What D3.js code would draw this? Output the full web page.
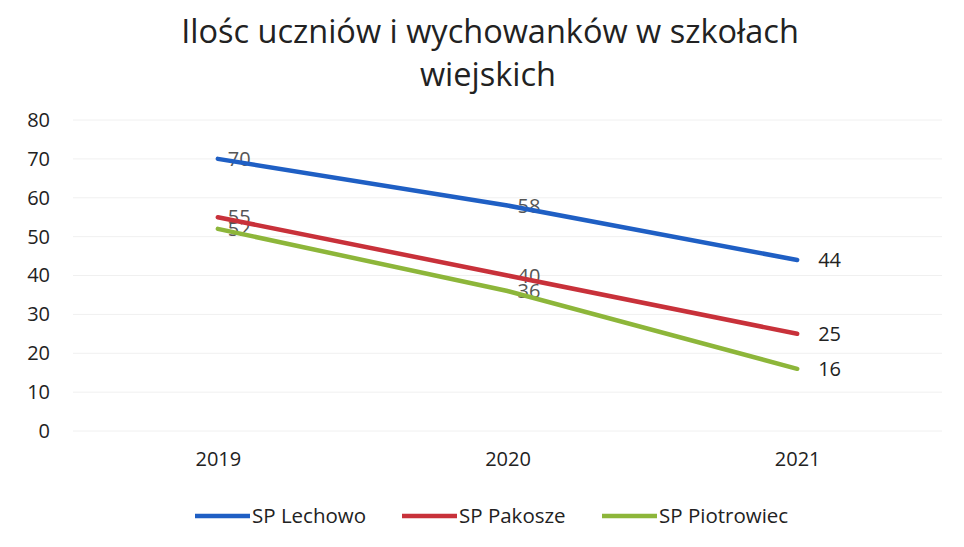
<!DOCTYPE html>
<html>
<head>
<meta charset="utf-8">
<script src="https://cdn.jsdelivr.net/npm/d3@7"></script>
<style>
  body { margin: 0; background: #fff; }
  text { font-family: "Open Sans", "Noto Sans", sans-serif; }
</style>
</head>
<body>
<div id="chart"></div>
<script>
let years = ['2019', '2020', '2021']
let seriesNames = ['SP Lechowo', 'SP Pakosze', 'SP Piotrowiec']
let lechowo = [70, 58, 44]
let pakosze = [55, 40, 25]
let piotrowiec = [52, 36, 16]
let yTicks = [0, 10, 20, 30, 40, 50, 60, 70, 80]
let colors = ['#1f5fc4', '#c8313a', '#8db63a']

let width = 964, height = 547
let margin = {top: 120, right: 22, bottom: 116, left: 73}

let svg = d3.select('#chart').append('svg').attr('width', width).attr('height', height)

let x = d3.scalePoint().domain(years).range([margin.left, width - margin.right]).padding(0.5)
let y = d3.scaleLinear().domain([0, 80]).range([height - margin.bottom, margin.top])

// title
svg.append('text').attr('x', 490).attr('y', 43).attr('text-anchor', 'middle')
    .style('font-size', '32.5px').attr('fill', '#222')
    .text('Ilośc uczniów i wychowanków w szkołach')
svg.append('text').attr('x', 488).attr('y', 86).attr('text-anchor', 'middle')
    .style('font-size', '32.5px').attr('fill', '#222')
    .text('wiejskich')

// grid
svg.append('g').selectAll('line').data(yTicks).enter().append('line')
    .attr('x1', margin.left).attr('x2', width - margin.right)
    .attr('y1', d => y(d)).attr('y2', d => y(d))
    .attr('stroke', '#f0f0f0').attr('stroke-width', 1)

let yAxis = svg.append('g').attr('transform', 'translate(' + (margin.left) + ',0)')
    .call(d3.axisLeft(y).tickValues(yTicks).tickSize(0).tickPadding(23))
yAxis.select('.domain').remove()
yAxis.selectAll('text').style('font-size', '20px').attr('fill', '#222')

let xAxis = svg.append('g').attr('transform', 'translate(0,' + (height - margin.bottom) + ')')
    .call(d3.axisBottom(x).tickSize(0).tickPadding(21))
xAxis.select('.domain').remove()
xAxis.selectAll('text').style('font-size', '20px').attr('fill', '#222')

let series = [lechowo, pakosze, piotrowiec].map((vals, i) => ({
    name: seriesNames[i], color: colors[i],
    values: vals.map((v, j) => ({year: years[j], value: v}))
}))

// labels for first two points, under the lines
series.forEach(s => {
    svg.append('g').selectAll('text').data(s.values.slice(0, 2)).enter().append('text')
        .attr('x', d => x(d.year) + 10).attr('y', d => y(d.value)).attr('dy', '0.35em')
        .style('font-size', '20px').attr('fill', '#555').text(d => d.value)
})

let line = d3.line().x(d => x(d.year)).y(d => y(d.value))
series.forEach(s => {
    svg.append('path').datum(s.values).attr('d', line).attr('fill', 'none')
        .attr('stroke', s.color).attr('stroke-width', 4.5).attr('stroke-linecap', 'round')
})

// labels at last point
series.forEach(s => {
    let last = s.values[s.values.length - 1]
    svg.append('text').attr('x', x(last.year) + 21).attr('y', y(last.value)).attr('dy', '0.35em')
        .style('font-size', '20px').attr('fill', '#222').text(last.value)
})

// legend
let legendX = [195, 402, 602]
let legend = svg.selectAll('.legend').data(series).enter().append('g').attr('class', 'legend')
    .attr('transform', (d, i) => 'translate(' + legendX[i] + ', 516)')
legend.append('line').attr('x1', 0).attr('x2', 55).attr('y1', 0).attr('y2', 0)
    .attr('stroke', d => d.color).attr('stroke-width', 4.5)
legend.append('text').attr('x', 57).attr('y', 0).attr('dy', '0.35em')
    .style('font-size', '20.5px').attr('fill', '#222').text(d => d.name)
</script>
</body>
</html>
